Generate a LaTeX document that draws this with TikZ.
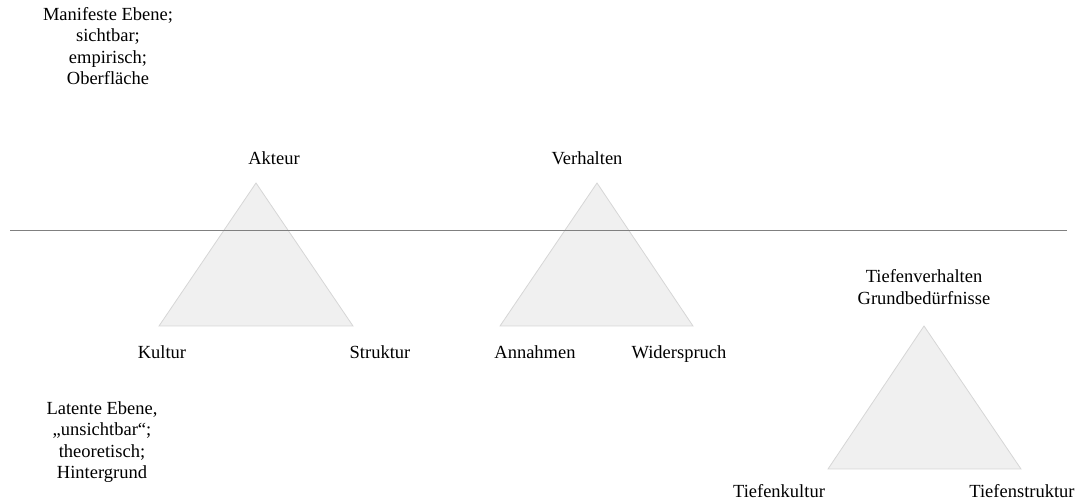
\documentclass[tikz,border=0pt]{standalone}
\usepackage{fontspec}
\setmainfont{Liberation Serif}
\begin{document}
\begin{tikzpicture}[x=1pt,y=-1pt,
  lbl/.style={font=\fontsize{18.5}{21.5}\selectfont, inner sep=0pt, align=center},
  tri/.style={fill=black!6, draw=black!16, line width=0.8pt, line join=miter},
  level/.style={draw=black!50, line width=0.8pt}]
  \useasboundingbox (0,0) rectangle (1077,502);

  % level boundary
  \coordinate (l1) at (10,230);
  \coordinate (l2) at (1067,230);

  % triangles
  \coordinate (a1) at (256,183);
  \coordinate (a2) at (159,326);
  \coordinate (a3) at (353,326);
  \coordinate (b1) at (597,183);
  \coordinate (b2) at (500,326);
  \coordinate (b3) at (693,326);
  \coordinate (c1) at (924,326);
  \coordinate (c2) at (828,469);
  \coordinate (c3) at (1021,469);
  \fill[tri] (a1) -- (a2) -- (a3) -- cycle;
  \fill[tri] (b1) -- (b2) -- (b3) -- cycle;
  \fill[tri] (c1) -- (c2) -- (c3) -- cycle;
  \draw[level] (l1) -- (l2);

  % labels
  \node[lbl, anchor=base] (akteur) at (274,165) {Akteur};
  \node[lbl, anchor=base] (verhalten) at (587,165) {Verhalten};
  \node[lbl, anchor=base] (kultur) at (162,359) {Kultur};
  \node[lbl, anchor=base] (struktur) at (380,359) {Struktur};
  \node[lbl, anchor=base] (annahmen) at (535,359) {Annahmen};
  \node[lbl, anchor=base] (widerspruch) at (679,359) {Widerspruch};
  \node[lbl] (tiefverh) at (924,287) {Tiefenverhalten\\Grundbedürfnisse};
  \node[lbl, anchor=base] (tiefkultur) at (779,497) {Tiefenkultur};
  \node[lbl, anchor=base] (tiefstruktur) at (1022,497) {Tiefenstruktur};
  \node[lbl] (manifest) at (108,46) {Manifeste Ebene;\\sichtbar;\\empirisch;\\Oberfläche};
  \node[lbl] (latent) at (102,442) {Latente Ebene,\\„unsichtbar“;\\theoretisch;\\Hintergrund};
\end{tikzpicture}
\end{document}
